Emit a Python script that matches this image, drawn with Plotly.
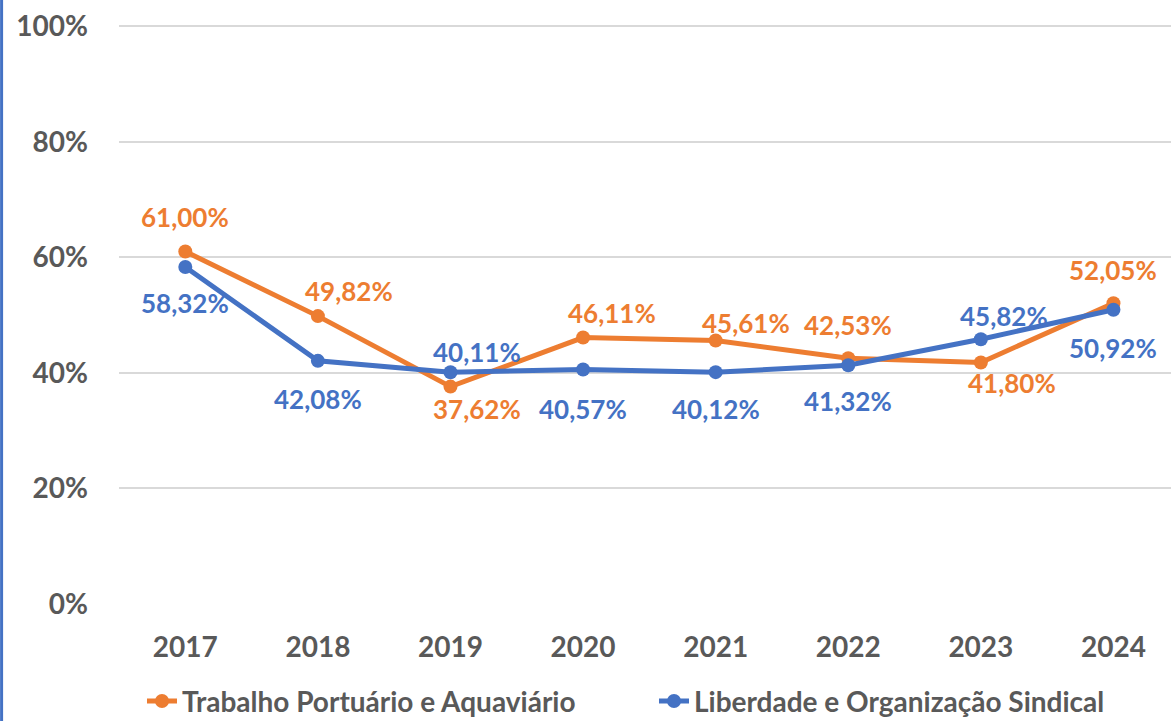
import plotly.graph_objects as go

years = ["2017", "2018", "2019", "2020", "2021", "2022", "2023", "2024"]
portuario = [61.00, 49.82, 37.62, 46.11, 45.61, 42.53, 41.80, 52.05]
sindical = [58.32, 42.08, 40.11, 40.57, 40.12, 41.32, 45.82, 50.92]
series_names = ["Trabalho Portuário e Aquaviário", "Liberdade e Organização Sindical"]
y_ticks = [0, 20, 40, 60, 80, 100]

# label placement (pixel offsets from the marker), layout only
port_dx = [0, 31, 27, 29, 30, 0, 31, 0]
port_dy = [35, 25, -22, 25, 17, 33, -21, 33]
sind_dx = [0, 0, 27, 0, 0, 0, 23, 0]
sind_dy = [-36, -38, 20, -39, -37, -36, 23, -38]

ORANGE = "#ED7D31"
BLUE = "#4472C4"
GREY = "#595959"
FONT = "Lato"

xs = list(range(len(years)))

fig = go.Figure()
fig.add_trace(go.Scatter(x=xs, y=portuario, name=series_names[0], mode="lines+markers",
                         line=dict(color=ORANGE, width=5), marker=dict(color=ORANGE, size=14)))
fig.add_trace(go.Scatter(x=xs, y=sindical, name=series_names[1], mode="lines+markers",
                         line=dict(color=BLUE, width=5), marker=dict(color=BLUE, size=14)))

def fmt(v):
    return f"{v:.2f}".replace(".", ",") + "%"

annos = []
for vals, dxs, dys, col in [(portuario, port_dx, port_dy, ORANGE), (sindical, sind_dx, sind_dy, BLUE)]:
    for i, v in enumerate(vals):
        annos.append(dict(x=xs[i], y=v, text=fmt(v), showarrow=False, xshift=dxs[i], yshift=dys[i],
                          font=dict(family=FONT, size=26, color=col, weight="bold")))

fig.update_layout(
    width=1171, height=721,
    margin=dict(l=119, r=0, t=25, b=117, autoexpand=False),
    paper_bgcolor="white", plot_bgcolor="white",
    showlegend=True,
    legend=dict(orientation="h", x=0.02186, xanchor="left", y=-0.168, yanchor="middle",
                font=dict(family=FONT, size=28, color=GREY, weight="bold"),
                entrywidth=467, entrywidthmode="pixels"),
    annotations=annos,
    hovermode=False,
    shapes=[dict(type="line", xref="paper", yref="paper", x0=-0.1116, x1=-0.1116,
                 y0=-117 / 579, y1=1 + 25 / 579, line=dict(color=BLUE, width=3))],
)
fig.update_xaxes(range=[-0.5, 7.434], tickmode="array", tickvals=xs, ticktext=years,
                 showgrid=False, zeroline=False, showline=False, ticks="", automargin=False,
                 tickfont=dict(family=FONT, size=28, color=GREY, weight="bold"),
                 ticklabelstandoff=24)
fig.update_yaxes(range=[0, 100.2], tickmode="array", tickvals=y_ticks,
                 ticktext=[f"{t}%" for t in y_ticks], automargin=False,
                 showgrid=True, gridcolor="#D9D9D9", gridwidth=2, zeroline=False, showline=False,
                 ticks="", tickfont=dict(family=FONT, size=28, color=GREY, weight="bold"),
                 ticklabelstandoff=30)

fig.write_html("out.html", config={"displayModeBar": False},
               post_script="document.body.style.margin='0';document.body.style.overflow='hidden';")
